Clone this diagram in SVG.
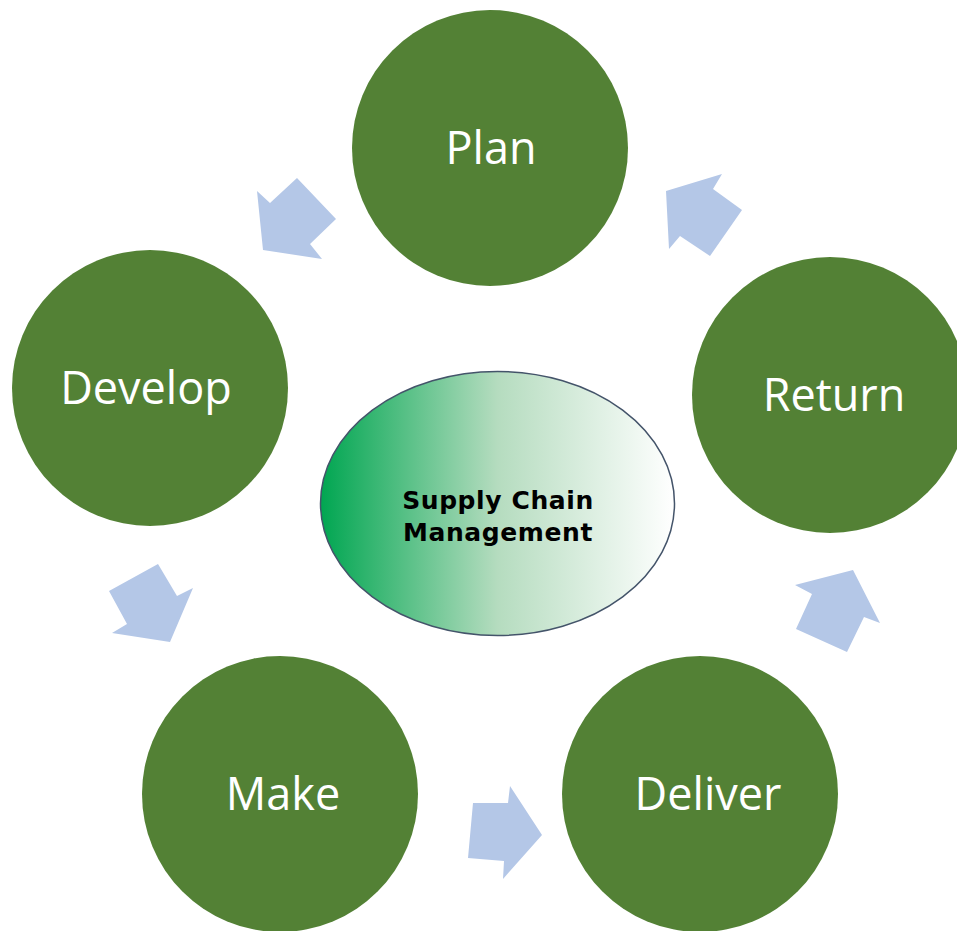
<svg xmlns="http://www.w3.org/2000/svg" width="957" height="931" viewBox="0 0 957 931">
<style>
.node{fill:#538135}
.lbl{fill:#ffffff;font-family:"Open Sans","Liberation Sans",sans-serif;font-size:45px;text-anchor:middle}
.arr{fill:#b4c7e7}
.ctr{fill:#000;font-family:"DejaVu Sans",Verdana,sans-serif;font-weight:bold;font-size:25px;letter-spacing:0.6px;text-anchor:middle}
</style>
<defs>
<linearGradient id="g" x1="0" y1="0" x2="1" y2="0">
<stop offset="0" stop-color="#00a651"/>
<stop offset="0.5" stop-color="#b5dcbf"/>
<stop offset="1" stop-color="#ffffff"/>
</linearGradient>
</defs>
<rect width="957" height="931" fill="#ffffff"/>
<g id="connectors">
<polygon class="arr" points="257,191 270,203 297,178 336,219 310,244 322,259 263,250"/>
<polygon class="arr" points="722,174 713,189 742,210 710,256 680,236 669,249 666,191"/>
<polygon class="arr" points="109,591 158,564 177,596 193,588 170,642 112,633 127,624"/>
<polygon class="arr" points="795,585 853,570 880,623 864,617 847,652 796,629 812,594"/>
<polygon class="arr" points="473,803 508,803 510,786 542,835 503,879 504,861 468,858"/>
</g>
<g id="plan"><circle class="node" cx="490" cy="148" r="138"/><text class="lbl" x="491" y="164">Plan</text></g>
<g id="develop"><circle class="node" cx="150" cy="388" r="138"/><text class="lbl" x="146" y="404">Develop</text></g>
<g id="return"><circle class="node" cx="830" cy="395" r="138"/><text class="lbl" x="834" y="411">Return</text></g>
<g id="make"><circle class="node" cx="280" cy="794" r="138"/><text class="lbl" x="283" y="810">Make</text></g>
<g id="deliver"><circle class="node" cx="700" cy="794" r="138"/><text class="lbl" x="708" y="810">Deliver</text></g>
<g id="center">
<ellipse cx="497.5" cy="503.5" rx="177" ry="132" fill="url(#g)" stroke="#44546a" stroke-width="1.5"/>
<text class="ctr" x="498" y="509">Supply Chain</text>
<text class="ctr" x="498" y="541">Management</text>
</g>
</svg>
